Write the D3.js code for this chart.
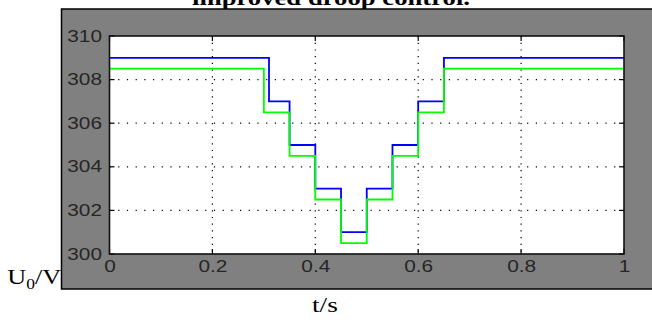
<!DOCTYPE html>
<html><head><meta charset="utf-8">
<script src="https://cdn.jsdelivr.net/npm/d3@7"></script>
<style>html,body{margin:0;padding:0;background:#fff;}svg{display:block;}</style>
</head><body>
<svg id="chart" width="652" height="320"></svg>
<script>
// ---- data ----
const titleText = "improved droop control.";
const xTicks = [0, 0.2, 0.4, 0.6, 0.8, 1];
const yTicks = [300, 302, 304, 306, 308, 310];
const xTickLabels = ["0", "0.2", "0.4", "0.6", "0.8", "1"];
const yTickLabels = ["300", "302", "304", "306", "308", "310"];
const blueT = [0, 0.31, 0.35, 0.40, 0.45, 0.50, 0.55, 0.60, 0.65, 1];
const blueV = [309, 307, 305, 303, 301, 303, 305, 307, 309];
const greenT = [0, 0.30, 0.35, 0.40, 0.45, 0.50, 0.55, 0.60, 0.65, 1];
const greenV = [308.5, 306.5, 304.5, 302.5, 300.5, 302.5, 304.5, 306.5, 308.5];

const svg = d3.select("#chart");
const L = 109.5, R = 624, T = 36, B = 254;
const x = d3.scaleLinear().domain([0, 1]).range([L, R]);
const y = d3.scaleLinear().domain([300, 310]).range([B, T]);

// title (partially cut off, as in the reference)
svg.append("text").attr("x", 192).attr("y", 5)
  .attr("font-family", "'Liberation Serif','Times New Roman',serif")
  .attr("font-weight", "bold").attr("font-size", 20)
  .attr("textLength", 278).attr("lengthAdjust", "spacingAndGlyphs")
  .attr("fill", "#000").text(titleText);

// gray panel
svg.append("rect").attr("x", 61.5).attr("y", 9).attr("width", 620).attr("height", 280)
  .attr("fill", "#808080").attr("stroke", "#000").attr("stroke-width", 1.5);

// plot background
svg.append("rect").attr("x", L).attr("y", T).attr("width", R - L).attr("height", B - T)
  .attr("fill", "#fff");

// grid
const grid = svg.append("g");
grid.selectAll("line.v").data(xTicks.slice(1, -1)).join("line")
  .attr("x1", d => x(d)).attr("x2", d => x(d)).attr("y1", T).attr("y2", B)
  .attr("stroke", "#000").attr("stroke-width", 1.2).attr("stroke-dasharray", "1.2,5.5");
grid.selectAll("line.h").data(yTicks.slice(1, -1)).join("line")
  .attr("y1", d => y(d)).attr("y2", d => y(d)).attr("x1", L).attr("x2", R)
  .attr("stroke", "#000").attr("stroke-width", 1.2).attr("stroke-dasharray", "1.2,7.5");

// step lines
function stepPts(ts, vs) {
  const pts = [];
  vs.forEach((v, i) => { pts.push([ts[i], v]); pts.push([ts[i + 1], v]); });
  return pts;
}
const line = d3.line().x(d => x(d[0])).y(d => y(d[1]));
svg.append("path").attr("d", line(stepPts(blueT, blueV)))
  .attr("fill", "none").attr("stroke", "#0000ff").attr("stroke-width", 1.8);
svg.append("path").attr("d", line(stepPts(greenT, greenV)))
  .attr("fill", "none").attr("stroke", "#00ff00").attr("stroke-width", 1.8);

// axes with inward ticks
const fontTick = "'Liberation Sans',Arial,sans-serif";
function styleLabels(g) {
  g.select(".domain").remove();
  g.selectAll(".tick line").remove();
  g.selectAll(".tick text").attr("font-family", fontTick).attr("font-size", 16)
    .attr("fill", "#262626")
    .each(function () {
      const w = this.getComputedTextLength();
      d3.select(this).attr("textLength", w * 1.3).attr("lengthAdjust", "spacingAndGlyphs");
    });
}
svg.append("g").attr("transform", `translate(0,${B})`)
  .call(d3.axisBottom(x).tickValues(xTicks).tickFormat((d, i) => xTickLabels[i]).tickSize(0).tickPadding(7))
  .call(styleLabels);
svg.append("g").attr("transform", `translate(${L},0)`)
  .call(d3.axisLeft(y).tickValues(yTicks).tickFormat((d, i) => yTickLabels[i]).tickSize(0).tickPadding(7.5))
  .call(styleLabels);

const tk = svg.append("g").attr("stroke", "#000").attr("stroke-width", 1.2);
xTicks.forEach(d => {
  tk.append("line").attr("x1", x(d)).attr("x2", x(d)).attr("y1", B).attr("y2", B - 5);
  tk.append("line").attr("x1", x(d)).attr("x2", x(d)).attr("y1", T).attr("y2", T + 5);
});
yTicks.forEach(d => {
  tk.append("line").attr("y1", y(d)).attr("y2", y(d)).attr("x1", L).attr("x2", L + 5);
  tk.append("line").attr("y1", y(d)).attr("y2", y(d)).attr("x1", R).attr("x2", R - 5);
});

// plot box
svg.append("rect").attr("x", L).attr("y", T).attr("width", R - L).attr("height", B - T)
  .attr("fill", "none").attr("stroke", "#111").attr("stroke-width", 1.6);

// axis titles
const serif = "'Liberation Serif','Times New Roman',serif";
const yl = svg.append("text").attr("transform", "translate(7.3,284.3) scale(1.25,1)")
  .attr("font-family", serif).attr("font-size", 21).attr("fill", "#000");
yl.append("tspan").text("U");
yl.append("tspan").attr("font-size", 14).attr("dy", 5).text("0");
yl.append("tspan").attr("dy", -5).text("/V");

svg.append("text").attr("transform", "translate(312,311.7) scale(1.3,1)")
  .attr("font-family", serif).attr("font-size", 21)
  .attr("fill", "#000").text("t/s");
</script>
</body></html>
